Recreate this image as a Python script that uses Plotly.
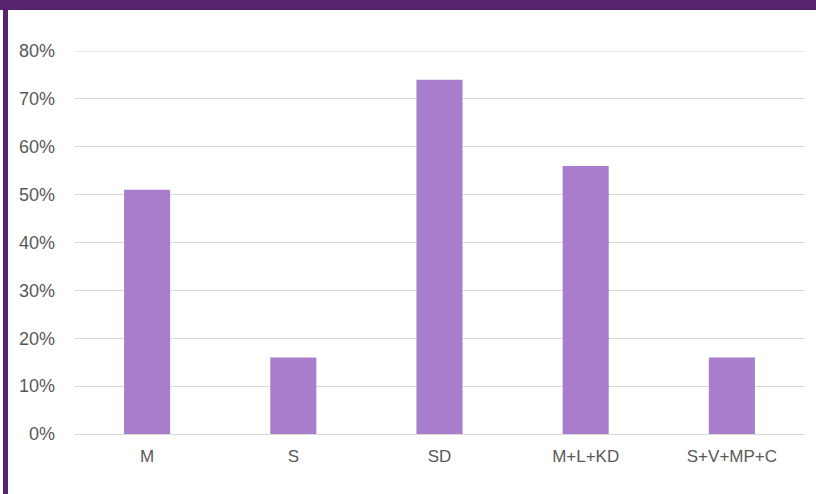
import plotly.graph_objects as go

categories = ["M", "S", "SD", "M+L+KD", "S+V+MP+C"]
values = [0.51, 0.16, 0.74, 0.56, 0.16]
tick_vals = [0, 0.1, 0.2, 0.3, 0.4, 0.5, 0.6, 0.7, 0.8]
tick_text = ["0%", "10%", "20%", "30%", "40%", "50%", "60%", "70%", "80%"]

W, H = 816, 494
L, R, T, B = 74, 11, 51, 60
pw, ph = W - L - R, H - T - B

def px(p):
    return (p - L) / pw

def py(q):
    return (H - B - q) / ph

purple = "#57236E"
grid = "#D9D9D9"

fig = go.Figure(go.Bar(x=categories, y=values, marker=dict(color="#A77DCC", line=dict(width=0))))

fig.update_layout(
    width=W, height=H,
    margin=dict(l=L, r=R, t=T, b=B, autoexpand=False),
    paper_bgcolor="white", plot_bgcolor="white",
    bargap=0.685,
    showlegend=False,
    font=dict(family="Liberation Sans, Arial", size=18, color="#595959"),
    xaxis=dict(showgrid=False, showline=False, ticks="", tickfont=dict(size=17),
               ticklabelstandoff=10),
    yaxis=dict(range=[0, 0.8], tickvals=tick_vals, ticktext=tick_text, showgrid=True,
               gridcolor=grid, gridwidth=1, zeroline=True, zerolinecolor=grid,
               zerolinewidth=1, showline=False, ticks="", ticklabelstandoff=18,
               tickfont=dict(size=18)),
    shapes=[
        dict(type="line", xref="paper", yref="y", x0=0, x1=1, y0=tick_vals[-1], y1=tick_vals[-1],
             line=dict(color=grid, width=1), layer="below"),
        dict(type="rect", xref="paper", yref="paper", x0=px(0), x1=px(W), y0=py(10), y1=py(0),
             fillcolor=purple, line=dict(width=0), layer="above"),
        dict(type="rect", xref="paper", yref="paper", x0=px(3), x1=px(8), y0=py(H), y1=py(10),
             fillcolor=purple, line=dict(width=0), layer="above"),
    ],
)

fig.write_html("out.html", config={"displayModeBar": False},
               post_script="document.body.style.margin='0px';document.body.style.padding='0px';")
